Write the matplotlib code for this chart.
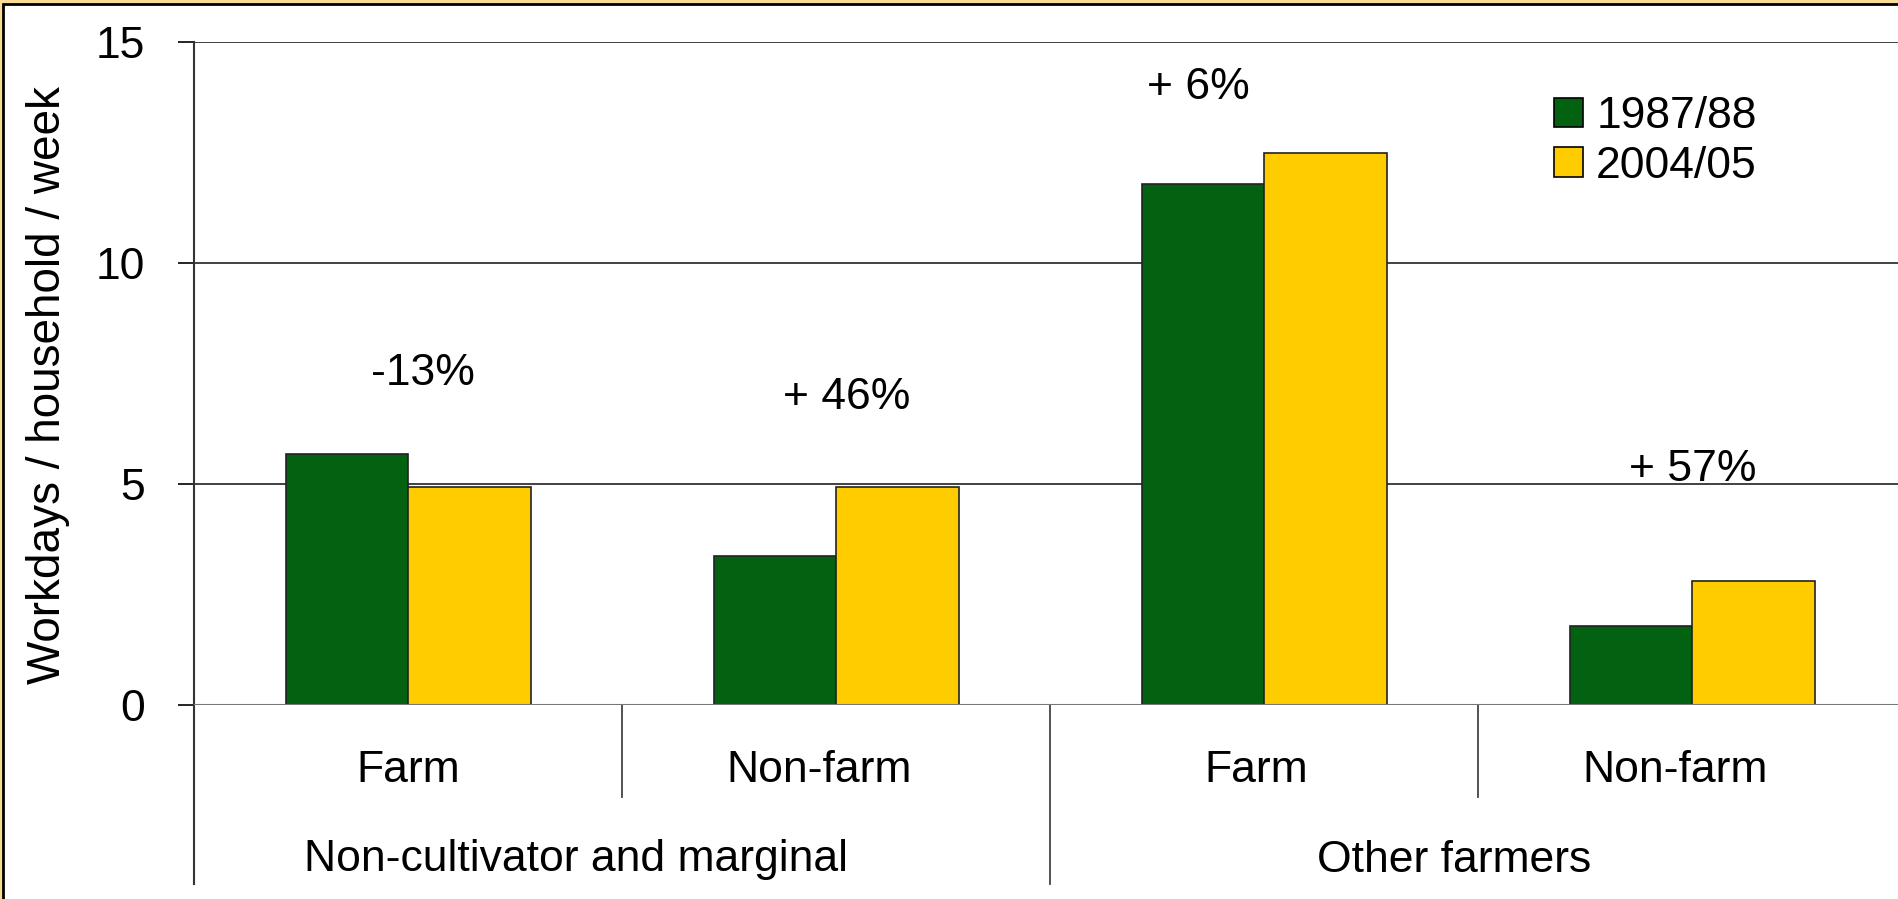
import matplotlib
matplotlib.use("Agg")
import matplotlib.pyplot as plt
from matplotlib.patches import Rectangle, Patch
import numpy as np

plt.rcParams['font.family'] = ['Liberation Sans', 'DejaVu Sans']

# data
sub_labels = ["Farm", "Non-farm", "Farm", "Non-farm"]
group_labels = ["Non-cultivator and marginal", "Other farmers"]
series_names = ["1987/88", "2004/05"]
vals_8788 = [5.68, 3.37, 11.79, 1.78]
vals_0405 = [4.94, 4.94, 12.48, 2.80]
changes = ["-13%", "+ 46%", "+ 6%", "+ 57%"]
change_x = [0.034, 1.025, 1.847, 3.0]
change_y = [7.51, 6.96, 13.98, 5.32]

green = "#036212"
yellow = "#FFCC00"
fs = 32

W, H = 1899, 899
fig = plt.figure(figsize=(W / 100, H / 100), dpi=100)
fig.patch.set_facecolor("#F8DC94")

# white slide area with thin black line on top/left
fig.patches.append(Rectangle((3.5 / W, -0.1), 1.2, 1.1 - 4.5 / H, transform=fig.transFigure,
                             facecolor="white", edgecolor="black", linewidth=2, zorder=-10))

left, right, y0, y15 = 194, 1906.5, 705, 42
ax = fig.add_axes([left / W, 1 - y0 / H, (right - left) / W, (y0 - y15) / H])
ax.set_facecolor("none")
ax.set_zorder(1)

x = np.arange(len(sub_labels))
bw = 0.286
ax.bar(x - bw / 2, vals_8788, bw, color=green, edgecolor="#222222", linewidth=1.2, zorder=3)
ax.bar(x + bw / 2, vals_0405, bw, color=yellow, edgecolor="#222222", linewidth=1.2, zorder=3)

ax.set_xlim(-0.5, 3.5)
ax.set_ylim(0, 15)
ax.set_yticks([0, 5, 10, 15])
ax.tick_params(axis="y", labelsize=fs, length=11.5, width=1.2, pad=24, direction="out")
ax.set_xticks([])
for g in [5, 10, 15]:
    ax.axhline(g, color="#333333", linewidth=1.3, zorder=1)

for s in ["top", "right", "bottom", "left"]:
    ax.spines[s].set_visible(False)
ax.axhline(0, color="#777777", linewidth=1.5, zorder=4)

tr = ax.get_xaxis_transform()
ax_h = y0 - y15
low_long = (y0 - 884) / ax_h
low_short = (y0 - 797) / ax_h
ax.plot([-0.5, -0.5], [1, low_long], transform=tr, color="#333333", linewidth=1.5, clip_on=False)
ax.plot([1.5, 1.5], [0, low_long], transform=tr, color="#444444", linewidth=1.3, clip_on=False)
for b in [0.5, 2.5]:
    ax.plot([b, b], [0, low_short], transform=tr, color="#444444", linewidth=1.3, clip_on=False)

sub_x = [0.0, 0.96, 1.98, 2.96]
for xi, lab in zip(sub_x, sub_labels):
    ax.text(xi, (y0 - 770) / ax_h, lab, transform=tr, ha="center", va="center", fontsize=fs)
for xi, lab in zip([0.393, 2.444], group_labels):
    ax.text(xi, (y0 - 860) / ax_h, lab, transform=tr, ha="center", va="center", fontsize=fs)

for xi, yi, t in zip(change_x, change_y, changes):
    ax.text(xi, yi, t, ha="center", va="center", fontsize=fs, zorder=5)

fig.text(48 / W, 1 - 385 / H, "Workdays / household / week", rotation=90,
         ha="center", va="center", fontsize=33)

handles = [Patch(facecolor=green, edgecolor="black", linewidth=1.2),
           Patch(facecolor=yellow, edgecolor="black", linewidth=1.2)]
fig.legend(handles, series_names, loc="upper left", bbox_to_anchor=(1554 / W, 1 - 96 / H),
           frameon=False, fontsize=fs, handlelength=0.65, handleheight=0.65,
           handletextpad=0.3, labelspacing=0.2, borderpad=0, borderaxespad=0)

fig.savefig("out.png", dpi=100, facecolor=fig.get_facecolor())
